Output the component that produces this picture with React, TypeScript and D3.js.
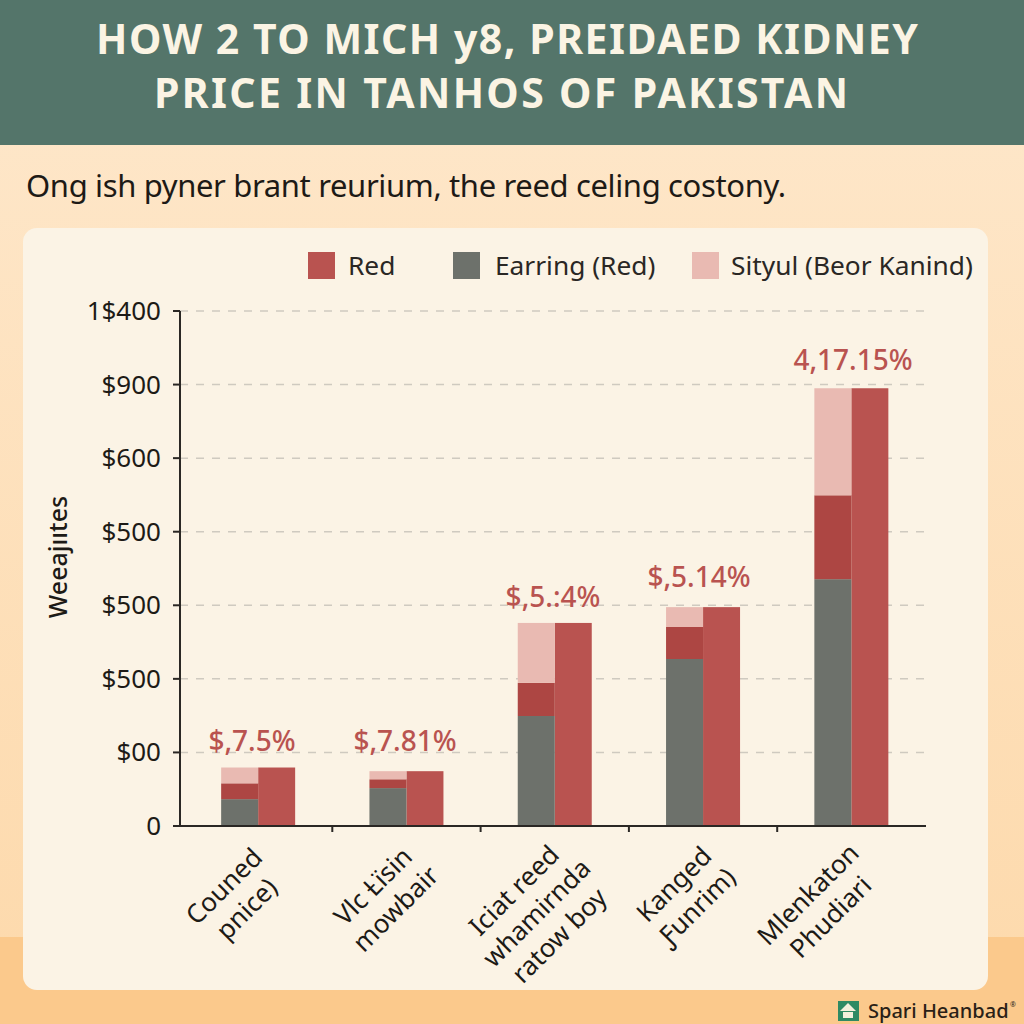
import React from "react";
import * as d3 from "d3";

const titleLines = ["HOW 2 TO MICH у8, PREIDAED KIDNEY", "PRICE IN TANHOS OF PAKISTAN"];
const subtitle = "Ong ish pyner brant reurium, the reed celing costony.";
const yTickLabels = ["0", "$00", "$500", "$500", "$500", "$600", "$900", "1$400"];
const yTickValues = [0, 200, 400, 600, 800, 1000, 1200, 1400];
const categories = ["a", "b", "c", "d", "e"];
const categoryLabels = [
  ["Couned", "pnice)"],
  ["Vlc Ƚïsin", "mowbaіr"],
  ["Iciat reed", "whamirnda", "ratow boy"],
  ["Kanged", "Ƒunrim)"],
  ["Mlenkaton", "Phudiari"],
];
const grayValues = [73, 103, 299, 454, 671];
const redValues = [43, 24, 90, 87, 228];
const pinkValues = [43, 22, 163, 54, 291];
const barLabels = ["$,7.5%", "$,7.81%", "$,5.:4%", "$,5.14%", "4,17.15%"];
const legendNames = ["Red", "Earring (Red)", "Sityul (Beor Kanind)"];

const GRAY = "#6d716b";
const RED = "#b95350";
const DARKRED = "#ad4643";
const PINK = "#e9bab2";
const FONT = "'Noto Sans', 'Open Sans', sans-serif";

const bgStops = [
  { o: "0%", c: "#fee8cc" },
  { o: "100%", c: "#fdd9ab" },
];

export default function App() {
  const y = d3.scaleLinear().domain([0, 1400]).range([826, 311]);
  const x = d3.scaleBand().domain(categories).range([184, 925.5]).padding(0);
  const barW = 37;
  const centers = categories.map((c) => (x(c) as number) + x.bandwidth() / 2);
  const stack = d3
    .stack<number>()
    .keys(["g", "r", "p"])
    .value((i, k) => (k === "g" ? grayValues[i] : k === "r" ? redValues[i] : pinkValues[i]));
  const series = stack(categories.map((_, i) => i));
  const fills = [GRAY, DARKRED, PINK];
  const legendX = [308, 453, 692];
  const legendTextX = [348, 495, 731];
  const labelX = [252, 405, 553, 699, 853];
  const labelY = [751, 751, 607, 587, 370];
  const labelOrigin = [
    [229, 880],
    [378, 880],
    [519, 884],
    [679, 878],
    [813, 888],
  ];
  return (
    <svg
      width={1024}
      height={1024}
      viewBox="0 0 1024 1024"
      style={{ position: "absolute", left: 0, top: 0, display: "block" }}
    >
      <defs>
        <linearGradient id="bg" x1="0" y1="0" x2="0" y2="1">
          {bgStops.map((s) => (
            <stop key={s.o} offset={s.o} stopColor={s.c} />
          ))}
        </linearGradient>
      </defs>
      <rect x={0} y={0} width={1024} height={1024} fill="url(#bg)" />
      <rect x={0} y={937} width={1024} height={87} fill="#fbc98c" />
      <rect x={0} y={0} width={1024} height={145} fill="#54756a" />
      {titleLines.map((t, i) => (
        <text
          key={i}
          x={[507, 501][i]}
          y={[54, 108][i]}
          textAnchor="middle"
          fill="#fbf4e4"
          fontFamily={FONT}
          fontWeight={700}
          fontSize={41}
          textLength={[822, 694][i]}
          lengthAdjust="spacing"
        >
          {t}
        </text>
      ))}
      <text x={26} y={197} fill="#1d1a16" fontFamily={FONT} fontSize={31} textLength={760} lengthAdjust="spacing">
        {subtitle}
      </text>
      <rect x={23} y={228} width={965} height={762} rx={14} fill="#fbf3e5" />
      {legendNames.map((n, i) => (
        <g key={n}>
          <rect x={legendX[i]} y={252} width={27} height={27} fill={[RED, GRAY, PINK][i]} />
          <text x={legendTextX[i]} y={275} fill="#2a2724" fontFamily={FONT} fontSize={26.3}>
            {n}
          </text>
        </g>
      ))}
      {yTickValues.map((v, i) => (
        <g key={i}>
          {v > 0 && (
            <line x1={180} x2={924} y1={y(v)} y2={y(v)} stroke="#cfcac0" strokeWidth={1.5} strokeDasharray="8 8" />
          )}
          <line x1={173} x2={180} y1={y(v)} y2={y(v)} stroke="#2a2724" strokeWidth={2} />
          <text x={161} y={y(v) + 9} textAnchor="end" fill="#1d1a16" fontFamily={FONT} fontSize={26}>
            {yTickLabels[i]}
          </text>
        </g>
      ))}
      <text
        transform="translate(67,557) rotate(-90)"
        textAnchor="middle"
        fill="#1d1a16"
        fontFamily={FONT}
        fontWeight={500}
        fontSize={25}
      >
        Weeajııtes
      </text>
      {categories.map((c, i) => (
        <g key={c}>
          <rect
            x={centers[i]}
            width={barW}
            y={y(grayValues[i] + redValues[i] + pinkValues[i])}
            height={y(0) - y(grayValues[i] + redValues[i] + pinkValues[i])}
            fill={RED}
          />
          {series.map((s, k) => (
            <rect
              key={k}
              x={centers[i] - barW}
              width={barW}
              y={y(s[i][1])}
              height={y(s[i][0]) - y(s[i][1])}
              fill={fills[k]}
            />
          ))}
          <text
            x={labelX[i]}
            y={labelY[i]}
            textAnchor="middle"
            fill={RED}
            fontFamily={FONT}
            fontWeight={500}
            fontSize={28}
          >
            {barLabels[i]}
          </text>
        </g>
      ))}
      <line x1={180} x2={180} y1={311} y2={826} stroke="#2a2724" strokeWidth={2} />
      <line x1={176} x2={926} y1={826} y2={826} stroke="#2a2724" strokeWidth={2} />
      {categories.map((c, i) => (
        <line
          key={c}
          x1={(x(c) as number) + x.bandwidth()}
          x2={(x(c) as number) + x.bandwidth()}
          y1={826}
          y2={i < 4 ? 832 : 826}
          stroke="#2a2724"
          strokeWidth={2}
        />
      ))}
      {categoryLabels.map((lines, i) => (
        <g key={i} transform={`translate(${labelOrigin[i][0]},${labelOrigin[i][1]}) rotate(-45)`}>
          {lines.map((l, j) => (
            <text
              key={j}
              x={-8}
              y={10 + j * 32}
              textAnchor="middle"
              fill="#1d1a16"
              fontFamily={FONT}
              fontSize={26}
            >
              {l}
            </text>
          ))}
        </g>
      ))}
      <g>
        <rect x={838} y={1001} width={21} height={20} fill="#2f8a63" />
        <path d="M848 1003 l8 8 h-16 z" fill="#f4f0dc" />
        <rect x={843} y={1012} width={10} height={6} fill="#f4f0dc" />
        <text x={868} y={1018} fill="#2a1f17" fontFamily={FONT} fontWeight={500} fontSize={20}>
          Spari Heanbad
        </text>
        <text x={1010} y={1007} fill="#2a1f17" fontFamily={FONT} fontSize={7}>
          ®
        </text>
      </g>
    </svg>
  );
}
